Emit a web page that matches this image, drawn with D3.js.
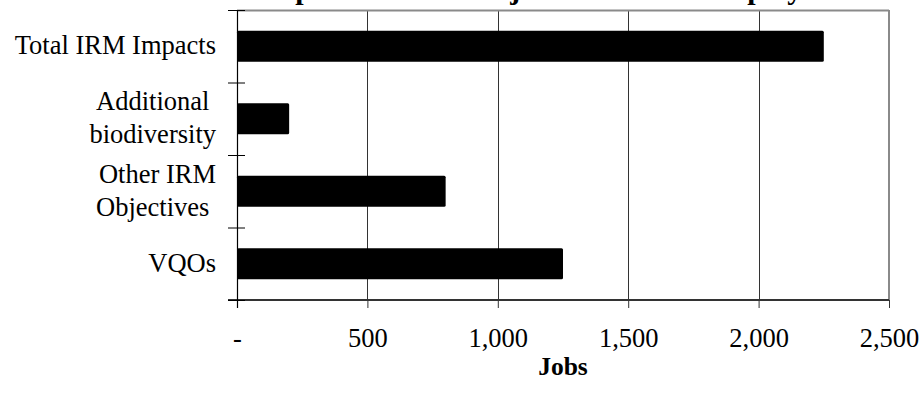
<!DOCTYPE html>
<html>
<head>
<meta charset="utf-8">
<script src="https://cdn.jsdelivr.net/npm/d3@7"></script>
<style>
  html, body { margin: 0; padding: 0; background: #fff; }
  svg { display: block; }
  text { font-family: "Liberation Serif", "Times New Roman", serif; fill: #000; }
</style>
</head>
<body>
<svg id="chart" width="924" height="402"></svg>
<script>
// Job impacts by component (jobs)
const categories = [
  ["Total IRM Impacts"],
  ["Additional ", "biodiversity"],
  ["Other IRM", "Objectives "],
  ["VQOs"]
];
const jobs = [2250, 200, 800, 1250];
const xTicks = [0, 500, 1000, 1500, 2000, 2500];
const xTickLabels = ["-", "500", "1,000", "1,500", "2,000", "2,500"];
const titleText = "Impacts of IRM on jobs and direct employment";
const xTitle = "Jobs";

const W = 924, H = 402;
const margin = { top: 10, right: 35, bottom: 102, left: 237 };
const w = W - margin.left - margin.right;
const h = H - margin.top - margin.bottom;

const svg = d3.select("#chart");
const g = svg.append("g").attr("transform", `translate(${margin.left},${margin.top})`);

const keys = categories.map(c => c.join(" "));
const x = d3.scaleLinear().domain([0, 2500]).range([0, w]);
const y = d3.scaleBand().domain(keys).range([0, h]).paddingInner(0.57).paddingOuter(0.285);
const step = y.step();

// title (sits at the very top edge)
svg.append("text")
  .attr("x", margin.left + w / 2)
  .attr("y", -1)
  .attr("text-anchor", "middle")
  .style("font-weight", "bold")
  .style("font-size", "30px")
  .text(titleText);

// vertical gridlines
g.selectAll("line.grid")
  .data(xTicks.filter(d => d > 0 && d < 2500))
  .join("line")
  .attr("class", "grid")
  .attr("x1", d => Math.round(x(d)) + 0.5)
  .attr("x2", d => Math.round(x(d)) + 0.5)
  .attr("y1", 0).attr("y2", h)
  .attr("stroke", "#333").attr("stroke-width", 1);

// plot border: top and right
g.append("line")
  .attr("x1", 0).attr("x2", x(2500)).attr("y1", 0.5).attr("y2", 0.5)
  .attr("stroke", "#8a8a8a").attr("stroke-width", 2);
g.append("line")
  .attr("x1", x(2500)).attr("x2", x(2500)).attr("y1", 0).attr("y2", h)
  .attr("stroke", "#8a8a8a").attr("stroke-width", 2);

// bars
g.selectAll("rect.bar")
  .data(keys.map((k, i) => ({ k, v: jobs[i] })))
  .join("rect")
  .attr("class", "bar")
  .attr("x", x(0))
  .attr("y", d => y(d.k))
  .attr("width", d => x(d.v) - x(0))
  .attr("height", y.bandwidth())
  .attr("rx", 1.5)
  .attr("fill", "#000");

// x axis
const xAxis = d3.axisBottom(x)
  .tickValues(xTicks)
  .tickFormat((d, i) => xTickLabels[i])
  .tickSize(8)
  .tickSizeOuter(0);
const gx = g.append("g").attr("transform", `translate(0,${h})`).call(xAxis);
gx.select(".domain").attr("stroke", "#333").attr("stroke-width", 2)
  .attr("d", `M${-9},0H${x(2500)}`);
gx.selectAll(".tick line").attr("stroke", "#333");
gx.selectAll(".tick text")
  .attr("y", 47).attr("dy", 0)
  .style("font-size", "26.5px")
  .style("font-family", "'Liberation Serif', 'Times New Roman', serif")
  .attr("fill", "#000");

// y axis line with crossing ticks at category boundaries
g.append("line")
  .attr("x1", 0.5).attr("x2", 0.5).attr("y1", 0).attr("y2", h + 8)
  .attr("stroke", "#000").attr("stroke-width", 1.2);
g.selectAll("line.ytick")
  .data(d3.range(keys.length + 1))
  .join("line")
  .attr("class", "ytick")
  .attr("x1", -9).attr("x2", 8)
  .attr("y1", i => i * step + 0.5)
  .attr("y2", i => i * step + 0.5)
  .attr("stroke", "#000");

// category labels
const lineGap = 33;
g.selectAll("text.cat")
  .data(categories)
  .join("text")
  .attr("class", "cat")
  .attr("text-anchor", "end")
  .style("font-size", "26.5px")
  .style("white-space", "pre")
  .attr("transform", (d, i) => `translate(-21,${y(keys[i]) + y.bandwidth() / 2})`)
  .each(function (lines) {
    const t = d3.select(this);
    const n = lines.length;
    lines.forEach((ln, j) => {
      t.append("tspan")
        .attr("x", 0)
        .attr("y", 8 + (j - (n - 1) / 2) * lineGap)
        .text(ln);
    });
  });

// x axis title
svg.append("text")
  .attr("x", margin.left + w / 2)
  .attr("y", 375)
  .attr("text-anchor", "middle")
  .style("font-weight", "bold")
  .style("font-size", "25.5px")
  .text(xTitle);
</script>
</body>
</html>
